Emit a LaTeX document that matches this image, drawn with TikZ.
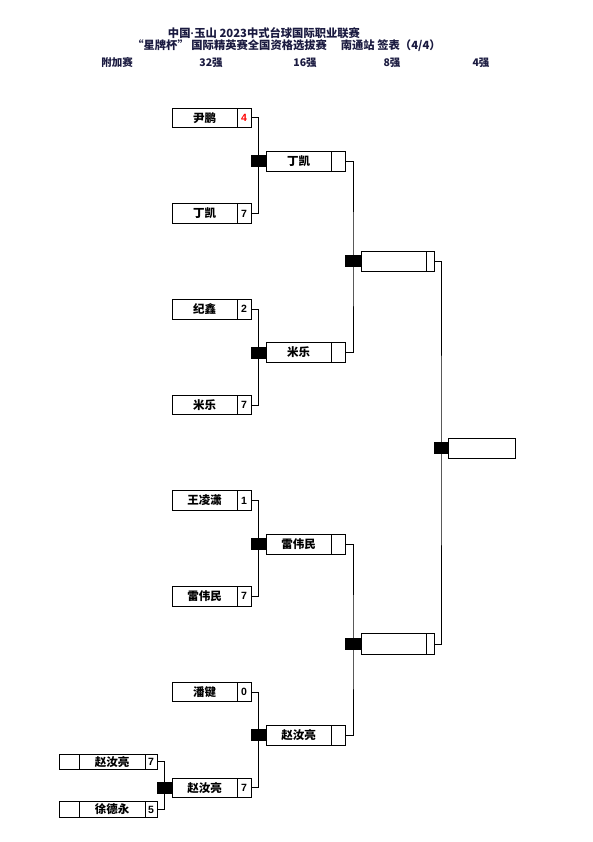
\documentclass[tikz,border=0pt]{standalone}
\usepackage{fontspec}
\setmainfont{Noto Sans CJK SC}
\newfontfamily\numfont{Liberation Sans}
\definecolor{hdr}{HTML}{1A1A40}
\begin{document}
\begin{tikzpicture}[x=1pt,y=-1pt,
  box/.style={draw, line width=0.8pt, minimum height=19.5pt, inner sep=0pt, outer sep=0pt, fill=white},
  namebox/.style={box, minimum width=65pt, font=\bfseries\fontsize{11.5}{11.5}\selectfont},
  scorebox/.style={box, minimum width=14pt, font=\numfont\bfseries\fontsize{10.5}{10.5}\selectfont},
  smallbox/.style={box, minimum height=15.5pt},
  sq/.style={fill=black, inner sep=0pt, outer sep=0pt, minimum height=12pt},
  conn/.style={line width=0.8pt},
  title/.style={font=\bfseries\fontsize{11.3}{11.3}\selectfont, text=hdr, inner sep=0pt},
  colhdr/.style={font=\bfseries\fontsize{10.5}{10.5}\selectfont, text=hdr, inner sep=0pt}]
\useasboundingbox[fill=white] (0,0) rectangle (593,842);

% titles
\node[title] (t1) at (264,33) {中国{\numfont·}玉山 2023中式台球国际职业联赛};
\node[title] (t2) at (286.5,45.5) {“星牌杯” 国际精英赛全国资格选拔赛\quad\ 南通站 签表（4/4）};
\node[colhdr] (h0) at (117,62.7) {附加赛};
\node[colhdr] (h1) at (211,62.7) {32强};
\node[colhdr] (h2) at (305,62.7) {16强};
\node[colhdr] (h3) at (392,62.7) {8强};
\node[colhdr] (h4) at (481,62.7) {4强};

% 32 column
\node[namebox] (n1) at (204.5,117.8) {尹鹏};
\node[scorebox, text=red] (s1) at (244,117.8) {4};
\node[namebox] (n2) at (204.5,213.5) {丁凯};
\node[scorebox] (s2) at (244,213.5) {7};
\node[namebox] (n3) at (204.5,309.2) {纪鑫};
\node[scorebox] (s3) at (244,309.2) {2};
\node[namebox] (n4) at (204.5,404.9) {米乐};
\node[scorebox] (s4) at (244,404.9) {7};
\node[namebox] (n5) at (204.5,500.6) {王凌潇};
\node[scorebox] (s5) at (244,500.6) {1};
\node[namebox] (n6) at (204.5,596.3) {雷伟民};
\node[scorebox] (s6) at (244,596.3) {7};
\node[namebox] (n7) at (204.5,692) {潘键};
\node[scorebox] (s7) at (244,692) {0};
\node[namebox] (n8) at (204.5,787.7) {赵汝亮};
\node[scorebox] (s8) at (244,787.7) {7};

% extra round
\node[smallbox, minimum width=19.7pt] (b9) at (69.2,761.7) {};
\node[smallbox, namebox, minimum height=15.5pt, minimum width=66pt] (n9) at (112,761.7) {赵汝亮};
\node[smallbox, scorebox, minimum height=15.5pt, minimum width=12pt] (s9) at (151,761.7) {7};
\node[smallbox, minimum width=19.7pt] (b10) at (69.2,809.5) {};
\node[smallbox, namebox, minimum height=15.5pt, minimum width=66pt] (n10) at (112,809.5) {徐德永};
\node[smallbox, scorebox, minimum height=15.5pt, minimum width=12pt] (s10) at (151,809.5) {5};
\node[sq, minimum width=15pt, minimum height=11.6pt] (q0) at (164.6,787.7) {};

% 16 column
\node[sq, minimum width=15pt] (q1) at (258.5,161.2) {};
\node[sq, minimum width=15pt] (q2) at (258.5,352.6) {};
\node[sq, minimum width=15pt] (q3) at (258.5,544) {};
\node[sq, minimum width=15pt] (q4) at (258.5,735.4) {};
\node[namebox, minimum height=20pt] (m1) at (298.5,161.2) {丁凯};
\node[scorebox, minimum height=20pt] (r1) at (338,161.2) {};
\node[namebox, minimum height=20pt] (m2) at (298.5,352.6) {米乐};
\node[scorebox, minimum height=20pt] (r2) at (338,352.6) {};
\node[namebox, minimum height=20pt] (m3) at (298.5,544) {雷伟民};
\node[scorebox, minimum height=20pt] (r3) at (338,544) {};
\node[namebox, minimum height=20pt] (m4) at (298.5,735.4) {赵汝亮};
\node[scorebox, minimum height=20pt] (r4) at (338,735.4) {};

% 8 column
\node[sq, minimum width=16pt] (p1) at (353,261.4) {};
\node[sq, minimum width=16pt] (p2) at (353,644) {};
\node[namebox, minimum height=20.5pt] (e1) at (393.5,261.4) {};
\node[scorebox, minimum height=20.5pt, minimum width=8pt] (f1) at (430,261.4) {};
\node[namebox, minimum height=20.5pt] (e2) at (393.5,644) {};
\node[scorebox, minimum height=20.5pt, minimum width=8pt] (f2) at (430,644) {};

% 4 column
\node[sq, minimum width=14pt] (o1) at (441,448) {};
\node[box, minimum width=67pt, minimum height=20pt] (w1) at (481.5,448) {};

% connectors
\draw[conn] (s9.east) -| (q0.center) |- (s10.east);
\draw[conn] (s1.east) -| (q1.center) |- (s2.east);
\draw[conn] (s3.east) -| (q2.center) |- (s4.east);
\draw[conn] (s5.east) -| (q3.center) |- (s6.east);
\draw[conn] (s7.east) -| (q4.center) |- (s8.east);
\draw[conn] (r1.east) -| (p1.center) |- (r2.east);
\draw[conn] (r3.east) -| (p2.center) |- (r4.east);
\draw[conn] (f1.east) -| (o1.center) |- (f2.east);
\end{tikzpicture}
\end{document}
